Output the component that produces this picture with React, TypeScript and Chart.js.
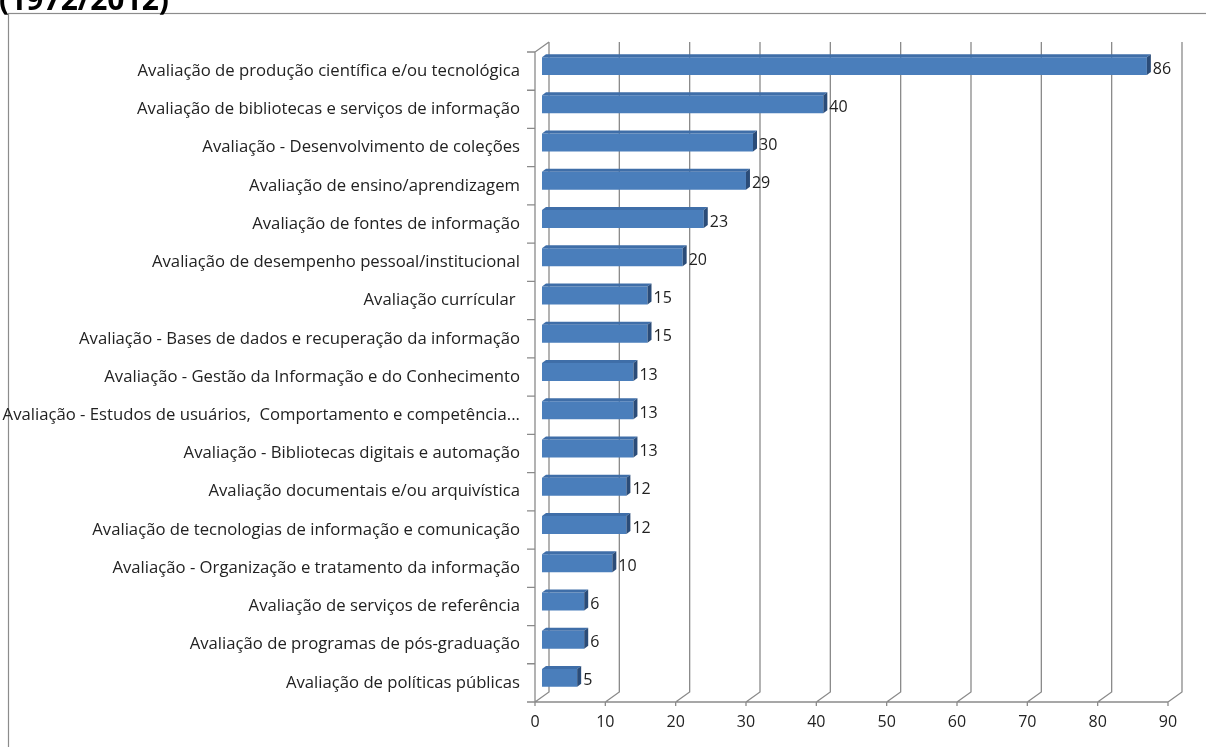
import React, { useEffect, useRef } from 'react';
import { Chart, registerables } from 'chart.js';

Chart.register(...registerables);

const categories: string[] = [
  'Avaliação de produção científica e/ou tecnológica',
  'Avaliação de bibliotecas e serviços de informação',
  'Avaliação - Desenvolvimento de coleções',
  'Avaliação de ensino/aprendizagem',
  'Avaliação de fontes de informação',
  'Avaliação de desempenho pessoal/institucional',
  'Avaliação currícular ',
  'Avaliação - Bases de dados e recuperação da informação',
  'Avaliação - Gestão da Informação e do Conhecimento',
  'Avaliação - Estudos de usuários,  Comportamento e competência...',
  'Avaliação - Bibliotecas digitais e automação',
  'Avaliação documentais e/ou arquivística',
  'Avaliação de tecnologias de informação e comunicação',
  'Avaliação - Organização e tratamento da informação',
  'Avaliação de serviços de referência',
  'Avaliação de programas de pós-graduação',
  'Avaliação de políticas públicas',
];

const values: number[] = [86, 40, 30, 29, 23, 20, 15, 15, 13, 13, 13, 12, 12, 10, 6, 6, 5];

const xTicks: number[] = [0, 10, 20, 30, 40, 50, 60, 70, 80, 90];

const titleText = '(1972/2012)';

const FONT = "'Open Sans', 'DejaVu Sans', sans-serif";
const GRID_COLOR = '#8a8a8a';
const WALL_DX = 14;
const WALL_DY = -10;
const BAR_DX = 7;
const BAR_DY = -5;
const SIDE_DX = 4;
const SIDE_DY = -3;

const threeD = {
  id: 'threeD',
  beforeDraw(chart: any) {
    const ctx = chart.ctx;
    ctx.save();
    ctx.fillStyle = '#ffffff';
    ctx.fillRect(0, 0, chart.width, chart.height);
    ctx.strokeStyle = '#8c8c8c';
    ctx.lineWidth = 1.2;
    ctx.strokeRect(8.5, 13.5, chart.width + 20, chart.height + 20);
    ctx.fillStyle = '#000000';
    ctx.font = `bold 30px ${FONT}`;
    ctx.textBaseline = 'alphabetic';
    ctx.textAlign = 'left';
    ctx.fillText(titleText, -1, 10);
    ctx.restore();
  },
  beforeDatasetsDraw(chart: any) {
    const ctx = chart.ctx;
    const xs = chart.scales.x;
    const area = chart.chartArea;
    const top = area.top;
    const bottom = area.bottom;
    ctx.save();
    ctx.strokeStyle = GRID_COLOR;
    ctx.lineWidth = 1.3;
    ctx.beginPath();
    xTicks.forEach((v) => {
      const x = xs.getPixelForValue(v);
      ctx.moveTo(x + WALL_DX, top + WALL_DY);
      ctx.lineTo(x + WALL_DX, bottom + WALL_DY);
      ctx.lineTo(x, bottom);
      ctx.moveTo(x, bottom);
      ctx.lineTo(x, bottom + 4);
    });
    ctx.moveTo(area.left, bottom);
    ctx.lineTo(area.right, bottom);
    ctx.moveTo(area.left, bottom);
    ctx.lineTo(area.left, top);
    ctx.lineTo(area.left + WALL_DX, top + WALL_DY);
    const n = categories.length;
    const step = (bottom - top) / n;
    for (let i = 0; i <= n; i++) {
      const y = top + i * step;
      ctx.moveTo(area.left - 8, y);
      ctx.lineTo(area.left, y);
    }
    ctx.stroke();
    ctx.restore();
    ctx.save();
    ctx.translate(BAR_DX, BAR_DY);
  },
  afterDatasetsDraw(chart: any) {
    const ctx = chart.ctx;
    const meta = chart.getDatasetMeta(0);
    meta.data.forEach((bar: any) => {
      const p = bar.getProps(['x', 'y', 'base', 'height'], true);
      const x0 = Math.min(p.x, p.base);
      const x1 = Math.max(p.x, p.base);
      const yT = p.y - p.height / 2;
      const yB = p.y + p.height / 2;
      ctx.fillStyle = '#3f6ea8';
      ctx.beginPath();
      ctx.moveTo(x0, yT);
      ctx.lineTo(x0 + SIDE_DX, yT + SIDE_DY);
      ctx.lineTo(x1 + SIDE_DX, yT + SIDE_DY);
      ctx.lineTo(x1, yT);
      ctx.closePath();
      ctx.fill();
      ctx.fillStyle = '#2b4c78';
      ctx.beginPath();
      ctx.moveTo(x1, yT);
      ctx.lineTo(x1 + SIDE_DX, yT + SIDE_DY);
      ctx.lineTo(x1 + SIDE_DX, yB + SIDE_DY);
      ctx.lineTo(x1, yB);
      ctx.closePath();
      ctx.fill();
    });
    ctx.restore();
    ctx.save();
    ctx.fillStyle = '#222222';
    ctx.font = `16px ${FONT}`;
    ctx.textAlign = 'left';
    ctx.textBaseline = 'middle';
    meta.data.forEach((bar: any, i: number) => {
      const p = bar.getProps(['x', 'y'], true);
      ctx.fillText(String(values[i]), p.x + BAR_DX + SIDE_DX + 2, p.y + BAR_DY + 3);
    });
    ctx.restore();
  },
};

export default function App() {
  const ref = useRef<HTMLCanvasElement | null>(null);
  useEffect(() => {
    if (!ref.current) return;
    const chart = new Chart(ref.current, {
      type: 'bar',
      data: {
        labels: categories,
        datasets: [
          {
            data: values,
            backgroundColor: '#4a7ebb',
            borderWidth: 0,
            barPercentage: 0.47,
            categoryPercentage: 1,
          },
        ],
      },
      options: {
        indexAxis: 'y',
        animation: false,
        responsive: false,
        devicePixelRatio: 1,
        layout: { padding: { top: 52, right: 38, bottom: 0, left: 0 } },
        plugins: {
          legend: { display: false },
          title: { display: false },
          tooltip: { enabled: false },
        },
        scales: {
          x: {
            type: 'linear',
            min: 0,
            max: 90,
            ticks: {
              stepSize: 10,
              padding: 11,
              color: '#222222',
              font: { family: FONT, size: 16 },
            },
            grid: { display: false, drawTicks: false },
            border: { display: false },
            afterFit(s: any) {
              s.height = 45;
            },
          },
          y: {
            type: 'category',
            ticks: {
              padding: 15,
              color: '#222222',
              autoSkip: false,
              font: { family: FONT, size: 16.7 },
            },
            grid: { display: false, drawTicks: false },
            border: { display: false },
            afterFit(s: any) {
              s.width = 535;
            },
          },
        },
      },
      plugins: [threeD],
    });
    return () => chart.destroy();
  }, []);
  return (
    <div style={{ position: 'fixed', left: 0, top: 0, width: 1206, height: 747 }}>
      <canvas ref={ref} width={1206} height={747} style={{ width: 1206, height: 747, display: 'block' }} />
    </div>
  );
}
